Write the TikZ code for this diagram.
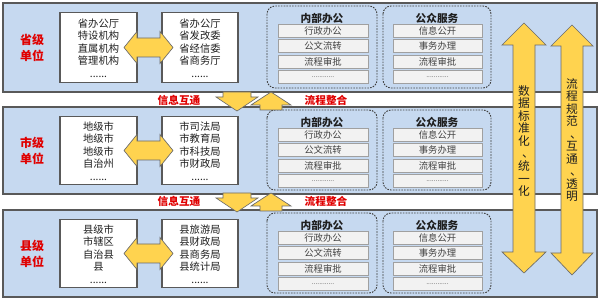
\documentclass[tikz,border=0pt]{standalone}
\usepackage{fontspec}
\setmainfont{Noto Sans CJK SC}
\definecolor{bandfill}{HTML}{C6D9F0}
\definecolor{bandline}{HTML}{595959}
\definecolor{itemfill}{HTML}{F2F2F2}
\definecolor{itemline}{HTML}{A0A0A0}
\definecolor{arrfill}{HTML}{FFD34F}
\definecolor{arrline}{HTML}{6A6A6A}
\definecolor{redlab}{HTML}{E00000}
\definecolor{txt}{HTML}{1F1F1F}
\newcommand{\vcomma}{\makebox[1em][l]{\hspace{0.35em}、}}
\begin{document}
\begin{tikzpicture}[x=0.75pt,y=-0.75pt,
  band/.style={draw=bandline,fill=bandfill,line width=1pt},
  orgbox/.style={draw=bandline,fill=white,line width=0.8pt},
  orgtext/.style={align=center,text=txt,font=\fontsize{7.7pt}{9.4pt}\selectfont,inner sep=0pt},
  unitlab/.style={align=center,text=redlab,font=\fontsize{9pt}{12pt}\selectfont\bfseries,inner sep=0pt},
  gaplab/.style={text=redlab,font=\fontsize{8pt}{9pt}\selectfont\bfseries,inner sep=0pt},
  grp/.style={draw=black!75,dash pattern=on 1.2pt off 0.9pt,line width=0.7pt,rounded corners=6pt,fill=bandfill},
  grptitle/.style={text=txt,font=\fontsize{8pt}{9pt}\selectfont\bfseries,inner sep=0pt},
  itembox/.style={draw=itemline,fill=itemfill,line width=0.6pt},
  itemtext/.style={text=txt!85,font=\fontsize{7pt}{8pt}\selectfont,inner sep=0pt},
  yarrow/.style={draw=arrline,fill=arrfill,line width=0.5pt,line join=miter},
  vtext/.style={align=center,text=txt,font=\fontsize{8.8pt}{9.4pt}\selectfont,inner sep=0pt}
]
\useasboundingbox (0,0) rectangle (600,302);
\fill[white] (0,0) rectangle (600,302);

\foreach \T/\B/\lab/\ta/\tb/\n in {
  3/92/{省级\\单位}/{省办公厅\\特设机构\\直属机构\\管理机构\\......}/{省办公厅\\省发改委\\省经信委\\省商务厅\\......}/p,
  107/194/{市级\\单位}/{地级市\\地级市\\地级市\\自治州\\......}/{市司法局\\市教育局\\市科技局\\市财政局\\......}/c,
  210/297/{县级\\单位}/{县级市\\市辖区\\自治县\\县\\......}/{县旅游局\\县财政局\\县商务局\\县统计局\\......}/x}{
  \pgfmathsetmacro{\M}{(\T+\B)/2}
  \draw[band] (3,\T) rectangle (597,\B);
  \node[unitlab] (lab\n) at (32,\M) {\lab};
  \draw[orgbox] (60,\T+9.5) rectangle (137,\B-9.5);
  \draw[orgbox] (162,\T+9.5) rectangle (238,\B-9.5);
  \node[orgtext] (ta\n) at (98.5,\M+0.5) {\ta};
  \node[orgtext] (tb\n) at (200,\M+0.5) {\tb};
  \draw[yarrow] (124,\M) -- (137,\M-16) -- (137,\M-9.5) -- (160,\M-9.5) -- (160,\M-16)
     -- (173,\M) -- (160,\M+16) -- (160,\M+9.5) -- (137,\M+9.5) -- (137,\M+16) -- cycle;
  \draw[grp] (267,\T+3) rectangle (377,\B-4);
  \draw[grp] (383,\T+3) rectangle (491,\B-4);
  \node[grptitle] (ga\n) at (322,\T+15.5) {内部办公};
  \node[grptitle] (gb\n) at (437,\T+15.5) {公众服务};
  \foreach \i/\txt in {0/行政办公,1/公文流转,2/流程审批,3/{\fontsize{5pt}{6pt}\selectfont............}}{
    \draw[itembox] (278,\T+21+15.5*\i) rectangle (368,\T+34+15.5*\i);
    \node[itemtext] (ia\n\i) at (323,\T+27.5+15.5*\i) {\txt};
  }
  \foreach \i/\txt in {0/信息公开,1/事务办理,2/流程审批,3/{\fontsize{5pt}{6pt}\selectfont............}}{
    \draw[itembox] (393,\T+21+15.5*\i) rectangle (482,\T+34+15.5*\i);
    \node[itemtext] (ib\n\i) at (437.5,\T+27.5+15.5*\i) {\txt};
  }
}

\foreach \b/\n in {92/1,193/2}{
  \draw[yarrow] (223,\b) -- (251,\b) -- (251,\b+5) -- (258,\b+5) -- (237,\b+19)
     -- (216,\b+5) -- (223,\b+5) -- cycle;
  \draw[yarrow] (271,\b) -- (291,\b+13) -- (282,\b+13) -- (282,\b+18) -- (260,\b+18)
     -- (260,\b+13) -- (251,\b+13) -- cycle;
  \node[gaplab] (gi\n) at (179,\b+8) {信息互通};
  \node[gaplab] (gf\n) at (326,\b+8) {流程整合};
}

\draw[yarrow] (524,23) -- (546,45) -- (535,45) -- (535,252) -- (546,252) -- (524,273)
   -- (502,252) -- (513,252) -- (513,45) -- (502,45) -- cycle;
\draw[yarrow] (572,25) -- (593,46) -- (583,46) -- (583,253) -- (593,253) -- (572,275)
   -- (551,253) -- (561,253) -- (561,46) -- (551,46) -- cycle;
\node[vtext] (v1) at (524,141) {数\\据\\标\\准\\化\\\vcomma\\统\\一\\化};
\node[vtext] (v2) at (572,140) {流\\程\\规\\范\\\vcomma\\互\\通\\\vcomma\\透\\明};
\end{tikzpicture}
\end{document}
